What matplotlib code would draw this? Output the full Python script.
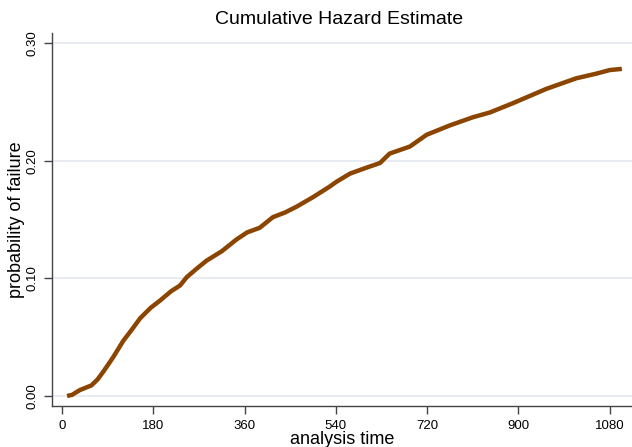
import matplotlib
matplotlib.use("Agg")
import matplotlib.pyplot as plt

plt.rcParams['font.family'] = ['Liberation Sans', 'DejaVu Sans']

title = "Cumulative Hazard Estimate"
xlabel = "analysis time"
ylabel = "probability of failure"
xticks = [0, 180, 360, 540, 720, 900, 1080]
yticks = [0.0, 0.1, 0.2, 0.3]
ytick_labels = ["0.00", "0.10", "0.20", "0.30"]

t = [10, 20, 35, 58, 70, 82, 101, 121, 137, 154, 175, 193, 215, 233, 246, 265,
     285, 315, 344, 365, 390, 416, 440, 463, 495, 528, 541, 568, 600, 627, 646,
     686, 719, 765, 811, 844, 890, 955, 1014, 1054, 1080, 1104]
haz = [0.000, 0.001, 0.005, 0.009, 0.014, 0.021, 0.033, 0.047, 0.056, 0.066,
       0.075, 0.081, 0.089, 0.094, 0.101, 0.108, 0.115, 0.123, 0.133, 0.139,
       0.143, 0.152, 0.156, 0.161, 0.169, 0.178, 0.182, 0.189, 0.194, 0.198,
       0.206, 0.212, 0.222, 0.230, 0.237, 0.241, 0.249, 0.261, 0.270, 0.274,
       0.277, 0.278]

fig = plt.figure(figsize=(6.32, 4.47), dpi=100)
ax = fig.add_axes([52/632, 41/447, 580/632, 373/447])

for y in yticks:
    ax.axhline(y, color='#e4e8f0', lw=1.2, zorder=0)

ax.plot(t, haz, color='#8b4500', lw=3.2, solid_capstyle='butt', zorder=3)

ax.set_xlim(-19.7, 1124)
ax.set_ylim(-0.0085, 0.3085)
ax.set_xticks(xticks)
ax.set_xticklabels([str(v) for v in xticks], fontsize=9.5)
ax.set_yticks(yticks)
ax.set_yticklabels(ytick_labels, fontsize=9.5, rotation=90, va='center')
ax.tick_params(axis='both', length=6, width=1, color='#444444', pad=4)

for s in ['top', 'right']:
    ax.spines[s].set_visible(False)
for s in ['left', 'bottom']:
    ax.spines[s].set_color('#444444')
    ax.spines[s].set_linewidth(1.0)

ax.set_xlabel(xlabel, fontsize=13, labelpad=-1)
ax.set_ylabel(ylabel, fontsize=13, labelpad=1)
fig.text(339/632, 1 - 20/447, title, fontsize=14, ha='center', va='center')

fig.savefig("out.png", dpi=100)
